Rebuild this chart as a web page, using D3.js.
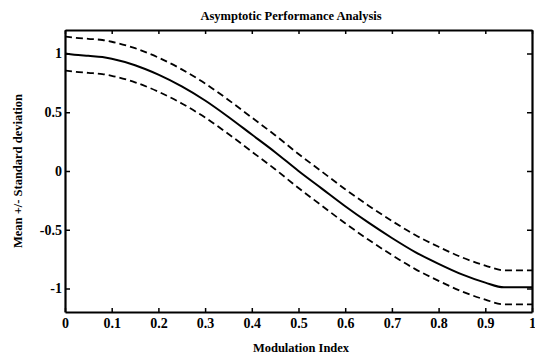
<!DOCTYPE html>
<html>
<head>
<meta charset="utf-8">
<script src="https://cdn.jsdelivr.net/npm/d3@7"></script>
<style>
  body { margin: 0; background: #fff; }
  text { font-family: "Liberation Serif", "DejaVu Serif", serif; fill: #000; }
</style>
</head>
<body>
<svg id="chart" width="535" height="357"></svg>
<script>
// values
var modIndex = [0, 0.02, 0.05, 0.08, 0.1, 0.15, 0.2, 0.25, 0.3, 0.35, 0.4, 0.45, 0.5,
                0.55, 0.6, 0.65, 0.7, 0.75, 0.8, 0.85, 0.9, 0.94, 1];
var meanVals = [1.0, 0.99, 0.98, 0.97, 0.955, 0.9, 0.82, 0.72, 0.6, 0.46, 0.31, 0.16, 0.0,
                -0.15, -0.3, -0.44, -0.57, -0.69, -0.79, -0.88, -0.95, -0.99, -0.99];
var stdVals  = [0.145, 0.145, 0.145, 0.145, 0.145, 0.145, 0.145, 0.145, 0.145, 0.145, 0.145, 0.145, 0.145,
                0.145, 0.145, 0.145, 0.145, 0.145, 0.145, 0.145, 0.145, 0.145, 0.145];
var xTicks = [0, 0.1, 0.2, 0.3, 0.4, 0.5, 0.6, 0.7, 0.8, 0.9, 1];
var yTicks = [-1, -0.5, 0, 0.5, 1];

var svg = d3.select("#chart");
var plotL = 65, plotR = 532, plotT = 30, plotB = 312;

var x = d3.scaleLinear().domain([0, 1]).range([plotL, plotR]);
var y = d3.scaleLinear().domain([-1.2, 1.2]).range([plotB, plotT]);

var rows = modIndex.map(function(m, i) {
    return { x: m, mean: meanVals[i], sd: stdVals[i] };
});

var line = function(acc) {
    return d3.line()
        .x(function(d) { return x(d.x); })
        .y(function(d) { return y(acc(d)); })
        .curve(d3.curveMonotoneX);
};

// dashed bands
svg.append("path")
    .attr("d", line(function(d) { return d.mean + d.sd; })(rows))
    .attr("fill", "none").attr("stroke", "#000")
    .attr("stroke-width", 1.8).attr("stroke-dasharray", "7,4");
svg.append("path")
    .attr("d", line(function(d) { return d.mean - d.sd; })(rows))
    .attr("fill", "none").attr("stroke", "#000")
    .attr("stroke-width", 1.8).attr("stroke-dasharray", "7,4");
// mean
svg.append("path")
    .attr("d", line(function(d) { return d.mean; })(rows))
    .attr("fill", "none").attr("stroke", "#000")
    .attr("stroke-width", 2);

// plain hyphen for negatives, like the original
var fmt = function(d) { return String(d); };

// axes with inward ticks
var xAxisB = d3.axisBottom(x).tickValues(xTicks).tickSizeInner(-4).tickSizeOuter(0)
    .tickPadding(6).tickFormat(fmt);
var xAxisT = d3.axisTop(x).tickValues(xTicks).tickSizeInner(-4).tickSizeOuter(0).tickFormat("");
var yAxisL = d3.axisLeft(y).tickValues(yTicks).tickSizeInner(-5).tickSizeOuter(0)
    .tickPadding(3).tickFormat(fmt);
var yAxisR = d3.axisRight(y).tickValues(yTicks).tickSizeInner(-5).tickSizeOuter(0).tickFormat("");

var gb = svg.append("g").attr("transform", "translate(0," + plotB + ")").call(xAxisB);
var gt = svg.append("g").attr("transform", "translate(0," + plotT + ")").call(xAxisT);
var gl = svg.append("g").attr("transform", "translate(" + plotL + ",0)").call(yAxisL);
var gr = svg.append("g").attr("transform", "translate(" + plotR + ",0)").call(yAxisR);

[gb, gt, gl, gr].forEach(function(g) {
    g.select(".domain").attr("stroke", "#000").attr("stroke-width", 2.2);
    g.selectAll(".tick line").attr("stroke", "#000").attr("stroke-width", 1.5);
    g.selectAll(".tick text")
        .style("font-family", "'Liberation Serif', serif")
        .style("font-size", "14px").style("font-weight", "bold").attr("fill", "#000");
});

// title and axis labels
svg.append("text").attr("x", 291).attr("y", 20).attr("text-anchor", "middle")
    .style("font-size", "12.5px").style("font-weight", "bold")
    .text("Asymptotic Performance Analysis");
svg.append("text").attr("x", 301).attr("y", 352).attr("text-anchor", "middle")
    .style("font-size", "12.5px").style("font-weight", "bold")
    .text("Modulation Index");
svg.append("text").attr("transform", "translate(22,171) rotate(-90)")
    .attr("text-anchor", "middle")
    .style("font-size", "12.5px").style("font-weight", "bold")
    .text("Mean +/- Standard deviation");
</script>
</body>
</html>
